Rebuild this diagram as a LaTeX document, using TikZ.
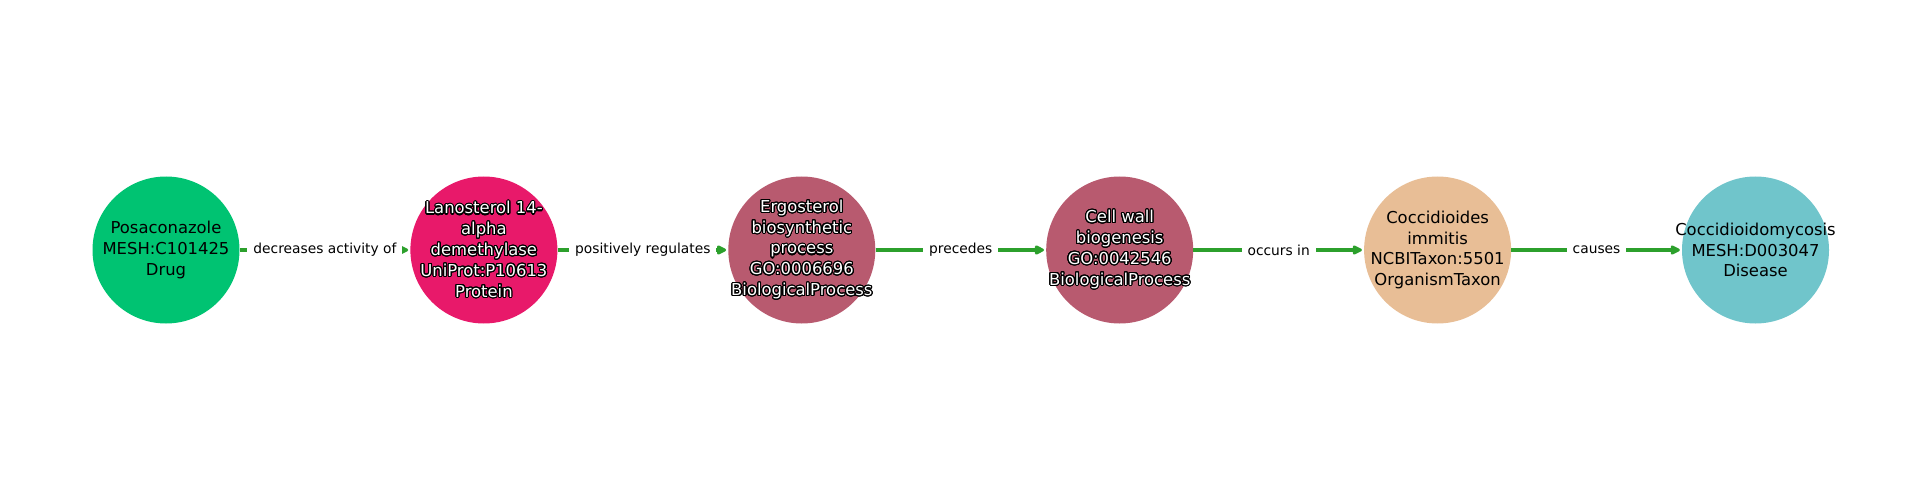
\documentclass[tikz,border=0pt]{standalone}
\usepackage{fontspec}
\setmainfont{DejaVu Sans}
\usepackage{contour}
\usetikzlibrary{positioning,arrows.meta}

\definecolor{drugColor}{HTML}{00C372}
\definecolor{proteinColor}{HTML}{E8196A}
\definecolor{processColor}{HTML}{B85A6F}
\definecolor{taxonColor}{HTML}{E8BE96}
\definecolor{diseaseColor}{HTML}{70C5CB}
\definecolor{edgeColor}{HTML}{2CA02C}

\contourlength{1.1pt}
\contournumber{24}
\newcommand{\ol}[1]{\contour{black}{#1}}

\tikzset{
	entity/.style={circle, minimum size=147pt, inner sep=0pt, draw=none},
	etext/.style={align=center, text=black, font=\fontsize{16.4}{20.8}\selectfont},
	dtext/.style={etext, text=white},
	rel/.style={fill=white, inner xsep=6pt, inner ysep=3pt, text=black, font=\fontsize{13.8}{16}\selectfont},
	link/.style={draw=edgeColor, line width=4pt, -{Triangle[length=11pt,width=10pt,round]}, shorten >=2pt}
}

\begin{document}
	\begin{tikzpicture}[x=1pt, y=-1pt]
		% ==================================================
		% 1. 参数设置
		% ==================================================
		\def\startx{166}   % 第一个圆心 x
		\def\midy{250}     % 圆心 y
		\def\gap{170.5pt}  % 相邻两圆边缘的距离
		% ==================================================

		% 画布大小
		\useasboundingbox (0,0) rectangle (1920,500);

		% 2. 节点 (圆)
		\node[entity, fill=drugColor,
			label={[etext]center:{Posaconazole\\MESH:C101425\\Drug}}]
			(drug) at (\startx,\midy) {};
		\node[entity, fill=proteinColor, right=\gap of drug,
			label={[dtext]center:{\ol{Lanosterol 14-}\\\ol{alpha}\\\ol{demethylase}\\\ol{UniProt:P10613}\\\ol{Protein}}}]
			(enzyme) {};
		\node[entity, fill=processColor, right=\gap of enzyme,
			label={[dtext]center:{\ol{Ergosterol}\\\ol{biosynthetic}\\\ol{process}\\\ol{GO:0006696}\\\ol{BiologicalProcess}}}]
			(ergo) {};
		\node[entity, fill=processColor, right=\gap of ergo,
			label={[dtext]center:{\ol{Cell wall}\\\ol{biogenesis}\\\ol{GO:0042546}\\\ol{BiologicalProcess}}}]
			(wall) {};
		\node[entity, fill=taxonColor, right=\gap of wall,
			label={[etext]center:{Coccidioides\\immitis\\NCBITaxon:5501\\OrganismTaxon}}]
			(fungus) {};
		\node[entity, fill=diseaseColor, right=\gap of fungus,
			label={[etext]center:{Coccidioidomycosis\\MESH:D003047\\Disease}}]
			(disease) {};

		% 3. 边 (标签盖在线上)
		\draw[link] (drug) -- node[rel] {decreases activity of} (enzyme);
		\draw[link] (enzyme) -- node[rel] {positively regulates} (ergo);
		\draw[link] (ergo) -- node[rel] {precedes} (wall);
		\draw[link] (wall) -- node[rel] {occurs in} (fungus);
		\draw[link] (fungus) -- node[rel] {causes} (disease);

	\end{tikzpicture}
\end{document}
